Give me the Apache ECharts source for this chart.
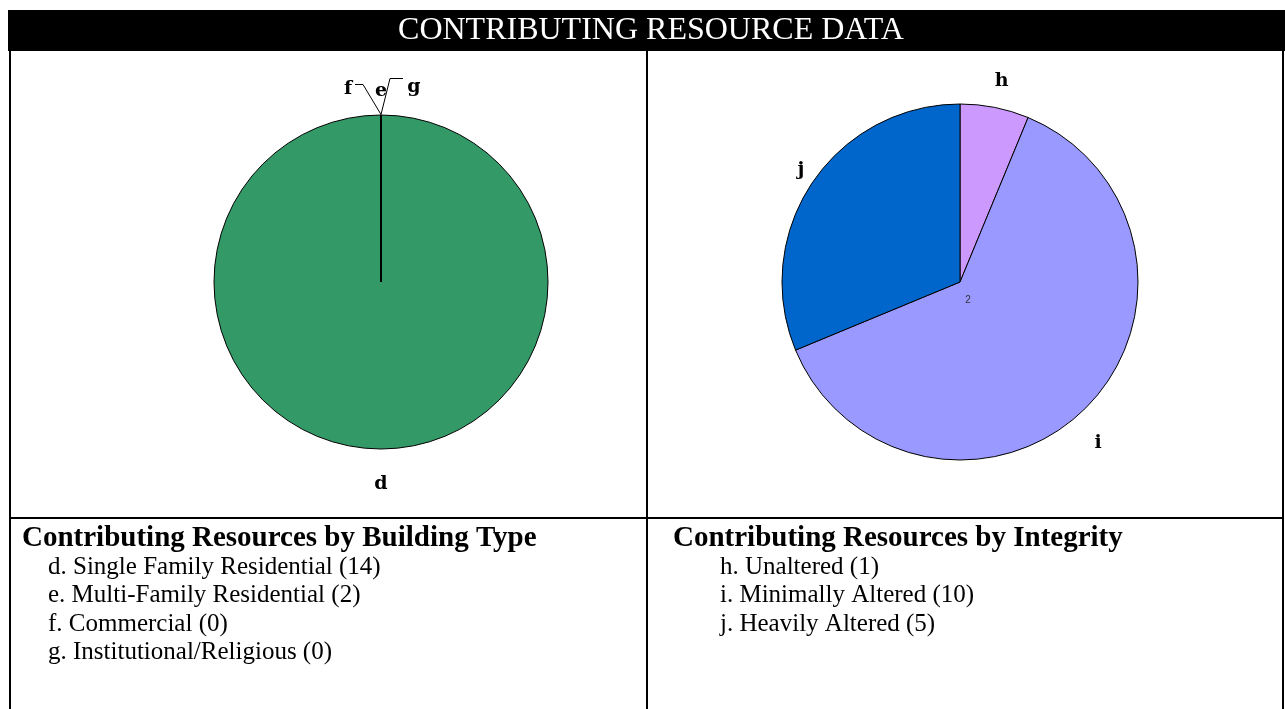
<!DOCTYPE html>
<html><head><meta charset="utf-8">
<script src="https://cdn.jsdelivr.net/npm/echarts@6/dist/echarts.min.js"></script>
<style>html,body{margin:0;padding:0;background:#fff;overflow:hidden}#c{width:1285px;height:709px}</style>
</head><body><div id="c"></div>
<script>
// ---- data ----
const titleText = 'CONTRIBUTING RESOURCE DATA';
const typeCategories = ['d', 'e', 'f', 'g'];
const typeValues = [14, 0, 0, 0];
const typeColors = ['#339966', '#339966', '#339966', '#339966'];
const typeHeading = 'Contributing Resources by Building Type';
const typeLegend = ['d. Single Family Residential (14)', 'e. Multi-Family Residential (2)', 'f. Commercial (0)', 'g. Institutional/Religious (0)'];
const integrityCategories = ['h', 'i', 'j'];
const integrityValues = [1, 10, 5];
const integrityColors = ['#cc99ff', '#9999ff', '#0066cc'];
const integrityHeading = 'Contributing Resources by Integrity';
const integrityLegend = ['h. Unaltered (1)', 'i. Minimally Altered (10)', 'j. Heavily Altered (5)'];
const strayLabel = '2';

// ---- layout ----
const SERIF = '"Liberation Serif", "Times New Roman", serif';
const LABEL_FONT = { fontFamily: '"DejaVu Serif", serif', fontWeight: 'bold', fontSize: 19, color: '#000' };
const leftCenter = [381, 282], leftR = 167;
const rightCenter = [960, 282], rightR = 178;

const chart = echarts.init(document.getElementById('c'), null, { renderer: 'canvas' });

// offsets of the zero-slice labels (e, f, g) relative to their anchor on the circle
const zeroLabelOffsets = {
  1: { dx: 0, dy: -23, line: [[0, 0], [0, 0], [0, 0]] },
  2: { dx: -33, dy: -25, line: [[0, 0], [-18, -30], [-26, -30]] },
  3: { dx: 33, dy: -27, line: [[0, 0], [9, -36], [22, -36]] }
};
// small nudges of the integrity labels away from the pure radial placement
const ringNudge = { 0: [1, 3], 1: [-9, 14], 2: [14, 4] };

const series = [
  {
    type: 'pie', center: leftCenter, radius: [0, leftR], startAngle: 90, clockwise: true,
    avoidLabelOverlap: false, animation: false, silent: true,
    itemStyle: { borderColor: '#000', borderWidth: 1 },
    label: Object.assign({ show: true, position: 'outside', formatter: '{b}' }, LABEL_FONT),
    labelLine: { show: true, length: 10, length2: 10, lineStyle: { color: '#000', width: 1 } },
    data: typeCategories.map((c, i) => ({
      name: c, value: typeValues[i], itemStyle: { color: typeColors[i] },
      label: { show: i > 0 }, labelLine: { show: i > 0 }
    })),
    labelLayout: function (p) {
      const o = zeroLabelOffsets[p.dataIndex];
      if (!o) return {};
      const ax = p.rect.x + p.rect.width / 2, ay = p.rect.y;
      return {
        x: ax + o.dx, y: ay + o.dy, align: 'center', verticalAlign: 'middle',
        labelLinePoints: o.line.map(pt => [ax + pt[0], ay + pt[1]])
      };
    }
  },
  {
    type: 'pie', center: leftCenter, radius: [leftR + 26, leftR + 38], startAngle: 90, clockwise: true,
    animation: false, silent: true, avoidLabelOverlap: false,
    itemStyle: { color: 'rgba(0,0,0,0)', borderWidth: 0 },
    label: Object.assign({ show: true, position: 'inside', formatter: '{b}' }, LABEL_FONT),
    labelLine: { show: false },
    data: typeCategories.map((c, i) => ({ name: c, value: typeValues[i], label: { show: typeValues[i] > 0 } }))
  },
  {
    type: 'pie', center: rightCenter, radius: [0, rightR], startAngle: 90, clockwise: true,
    avoidLabelOverlap: false, animation: false, silent: true,
    itemStyle: { borderColor: '#000', borderWidth: 1 },
    label: { show: false }, labelLine: { show: false },
    data: integrityCategories.map((c, i) => ({ name: c, value: integrityValues[i], itemStyle: { color: integrityColors[i] } }))
  },
  {
    type: 'pie', center: rightCenter, radius: [rightR + 22, rightR + 32], startAngle: 90, clockwise: true,
    animation: false, silent: true, avoidLabelOverlap: false,
    itemStyle: { color: 'rgba(0,0,0,0)', borderWidth: 0 },
    label: Object.assign({ show: true, position: 'inside', formatter: '{b}' }, LABEL_FONT),
    labelLine: { show: false },
    data: integrityCategories.map((c, i) => ({ name: c, value: integrityValues[i] })),
    labelLayout: function (p) {
      const n = ringNudge[p.dataIndex] || [0, 0];
      return { dx: n[0], dy: n[1] };
    }
  }
];

const graphics = [
  { type: 'rect', shape: { x: 8, y: 10, width: 1277, height: 41 }, style: { fill: '#000' }, z: 1 },
  { type: 'text', x: 651, y: 31, style: { text: titleText, fill: '#fff', font: '32px ' + SERIF, textAlign: 'center', textVerticalAlign: 'middle' }, z: 2 },
  { type: 'line', shape: { x1: 10, y1: 51, x2: 10, y2: 709 }, style: { stroke: '#000', lineWidth: 2 } },
  { type: 'line', shape: { x1: 647, y1: 51, x2: 647, y2: 709 }, style: { stroke: '#000', lineWidth: 2 } },
  { type: 'line', shape: { x1: 1283, y1: 51, x2: 1283, y2: 709 }, style: { stroke: '#000', lineWidth: 2 } },
  { type: 'line', shape: { x1: 10, y1: 518, x2: 1284, y2: 518 }, style: { stroke: '#000', lineWidth: 2 } },
  { type: 'text', x: 22, y: 539, style: { text: typeHeading, fill: '#000', font: 'bold 29px ' + SERIF, textVerticalAlign: 'middle' } },
  { type: 'text', x: 673, y: 539, style: { text: integrityHeading, fill: '#000', font: 'bold 29px ' + SERIF, textVerticalAlign: 'middle' } },
  { type: 'text', x: 968, y: 300, style: { text: strayLabel, fill: '#333', font: '10px sans-serif', textAlign: 'center', textVerticalAlign: 'middle' }, z: 10 }
];
const rowY0 = 567, rowStep = 28.5;
typeLegend.forEach((t, i) => graphics.push({ type: 'text', x: 48, y: rowY0 + i * rowStep, style: { text: t, fill: '#000', font: '25px ' + SERIF, textVerticalAlign: 'middle' } }));
integrityLegend.forEach((t, i) => graphics.push({ type: 'text', x: 720, y: rowY0 + i * rowStep, style: { text: t, fill: '#000', font: '25px ' + SERIF, textVerticalAlign: 'middle' } }));

chart.setOption({ backgroundColor: '#fff', animation: false, series: series, graphic: { elements: graphics } });
</script>
</body></html>
